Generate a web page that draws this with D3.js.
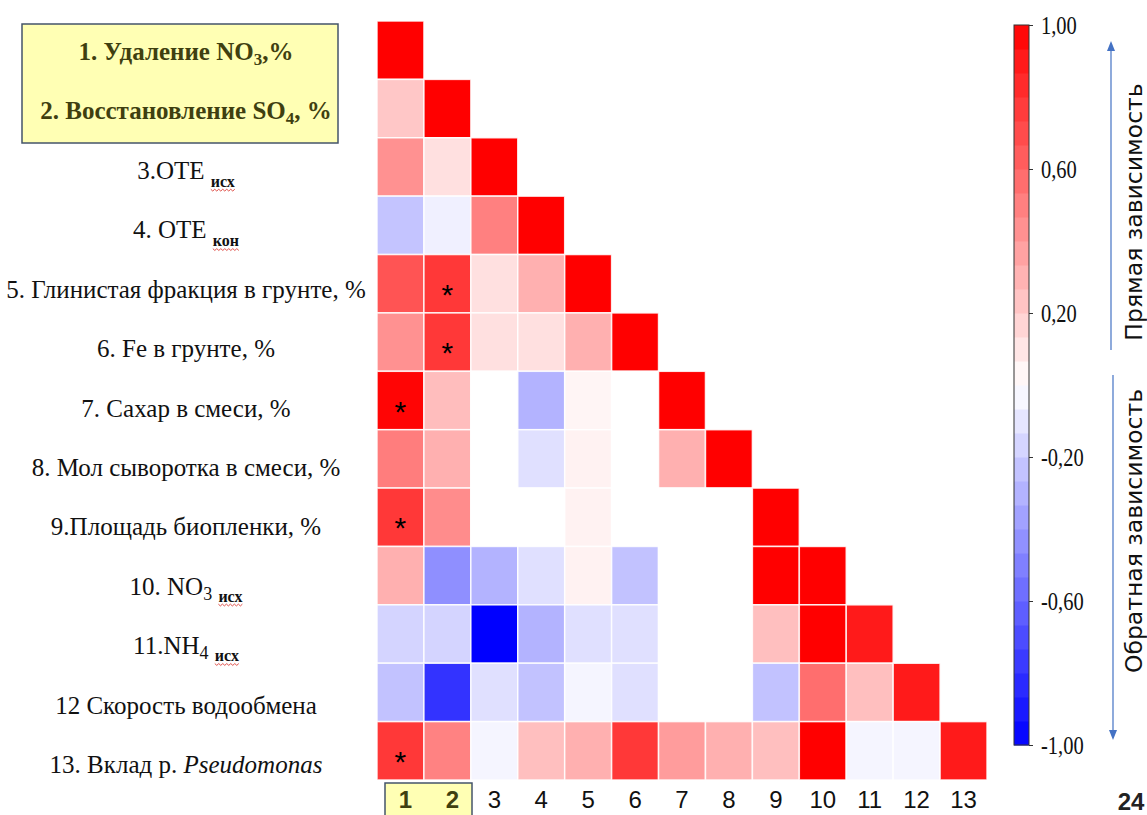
<!DOCTYPE html>
<html>
<head>
<meta charset="utf-8">
<script src="https://cdn.jsdelivr.net/npm/d3@7"></script>
<style>
  body { margin: 0; background: #fff; }
  svg { display: block; }
</style>
</head>
<body>
<svg id="chart" width="1147" height="815"></svg>
<script>
// Variable indices (rows and columns of the correlation matrix)
const variables = ["1","2","3","4","5","6","7","8","9","10","11","12","13"];

// Row labels, as text segments: [text, style]
const rowLabels = [
  [["1. Удаление NO"], ["3", "sub"], [",%"]],
  [["2. Восстановление SO"], ["4", "sub"], [", %"]],
  [["3.ОТЕ "], ["исх", "low"]],
  [["4. ОТЕ "], ["кон", "low"]],
  [["5. Глинистая фракция в грунте, %"]],
  [["6. Fe в грунте, %"]],
  [["7. Сахар в смеси, %"]],
  [["8. Мол сыворотка в смеси, %"]],
  [["9.Площадь биопленки, %"]],
  [["10. NO"], ["3", "sub"], [" "], ["исх", "low2"]],
  [["11.NH"], ["4", "sub"], [" "], ["исх", "low2"]],
  [["12 Скорость водообмена"]],
  [["13. Вклад р. "], ["Pseudomonas", "italic"]]
];
// Rows highlighted as target variables
const highlighted = ["1", "2"];

// Lower-triangle correlation coefficients, row by row
const r1  = [1.00];
const r2  = [0.22, 1.00];
const r3  = [0.43, 0.12, 1.00];
const r4  = [-0.23, -0.06, 0.50, 1.00];
const r5  = [0.67, 0.78, 0.12, 0.31, 1.00];
const r6  = [0.43, 0.78, 0.12, 0.12, 0.31, 1.00];
const r7  = [0.98, 0.26, 0.00, -0.30, 0.04, 0.00, 1.00];
const r8  = [0.51, 0.31, 0.00, -0.12, 0.05, 0.00, 0.31, 1.00];
const r9  = [0.78, 0.45, 0.00, 0.00, 0.05, 0.00, 0.00, 0.00, 1.00];
const r10 = [0.31, -0.44, -0.30, -0.12, 0.05, -0.24, 0.00, 0.00, 1.00, 1.00];
const r11 = [-0.17, -0.17, -1.00, -0.30, -0.12, -0.12, 0.00, 0.00, 0.25, 1.00, 0.90];
const r12 = [-0.24, -0.80, -0.12, -0.24, -0.04, -0.12, 0.00, 0.00, -0.24, 0.57, 0.25, 0.90];
const r13 = [0.78, 0.49, -0.04, 0.25, 0.31, 0.78, 0.39, 0.31, 0.25, 1.00, -0.04, -0.04, 0.90];
const corrRows = [r1, r2, r3, r4, r5, r6, r7, r8, r9, r10, r11, r12, r13];

// Significant coefficients: [row, column]
const significant = [["5","2"], ["6","2"], ["7","1"], ["9","1"], ["13","1"]];

// Colour-bar ticks and side captions
const legendTicks = [1, 0.6, 0.2, -0.2, -0.6, -1];
const positiveCaption = "Прямая зависимость";
const negativeCaption = "Обратная зависимость";
const pageNumber = "24";

const svg = d3.select("#chart");
const serif = "'Liberation Serif', 'Times New Roman', serif";
const sans = "'Liberation Sans', Arial, sans-serif";

// Scales
const x = d3.scaleBand().domain(variables).range([377, 987]);
const y = d3.scaleBand().domain(variables).range([21, 780]);
const labelY = d3.scalePoint().domain(variables).range([60, 773]);
const color = d3.scaleLinear().domain([-1, 0, 1]).range(["#0000ff", "#ffffff", "#ff0000"]);

// Flatten matrix
const cells = [];
corrRows.forEach((row, i) => row.forEach((v, j) => {
  cells.push({ row: variables[i], col: variables[j], value: v });
}));

// Heatmap cells
svg.append("g").selectAll("rect").data(cells).join("rect")
  .attr("x", d => x(d.col))
  .attr("y", d => y(d.row))
  .attr("width", x.bandwidth())
  .attr("height", y.bandwidth())
  .attr("fill", d => color(d.value))
  .attr("stroke", "#ffffff")
  .attr("stroke-opacity", 0.85)
  .attr("stroke-width", 1.5);

// Significance marks
svg.append("g").selectAll("text").data(significant).join("text")
  .attr("x", d => x(d[1]) + x.bandwidth() / 2)
  .attr("y", d => y(d[0]) + y.bandwidth() / 2 + 21)
  .attr("text-anchor", "middle")
  .attr("font-family", sans)
  .attr("font-size", 30)
  .attr("fill", "#000")
  .text("*");

// Highlight box for target variables (row labels)
svg.append("rect")
  .attr("x", 22).attr("y", 24).attr("width", 316).attr("height", 119)
  .attr("fill", "#ffffb4")
  .attr("stroke", "#44546a")
  .attr("stroke-width", 1.5);

// Row labels
const labelX = 186;
const labelG = svg.append("g");
rowLabels.forEach((parts, i) => {
  const key = variables[i];
  const isTarget = highlighted.includes(key);
  const t = labelG.append("text")
    .attr("x", labelX)
    .attr("y", labelY(key))
    .attr("text-anchor", "middle")
    .attr("font-family", serif)
    .attr("font-size", 25)
    .attr("font-weight", isTarget ? "bold" : "normal")
    .attr("fill", isTarget ? "#3f3f10" : "#111");
  let shift = 0;
  parts.forEach(([txt, style]) => {
    const ts = t.append("tspan").text(txt);
    let target = 0;
    if (style === "sub") { ts.attr("font-size", isTarget ? 17 : 18); target = 5; }
    else if (style === "low") { ts.attr("font-size", 16).attr("font-weight", "bold"); target = 8; }
    else if (style === "low2") { ts.attr("font-size", 16).attr("font-weight", "bold"); target = 7; }
    else if (style === "italic") { ts.attr("font-style", "italic"); }
    ts.attr("dy", target - shift);
    shift = target;
    if (style === "low" || style === "low2") ts.classed("spell", true);
  });
});

// Wavy underline under the abbreviated subscripts
labelG.selectAll("tspan.spell").each(function () {
  const n = this.getNumberOfChars();
  const s = this.getStartPositionOfChar(0);
  const e = this.getEndPositionOfChar(n - 1);
  const yy = s.y + 3;
  const pts = [];
  for (let xx = s.x, k = 0; xx <= e.x; xx += 2, k++) pts.push([xx, yy + (k % 2 ? 1.2 : -0.6)]);
  labelG.append("path")
    .attr("d", d3.line()(pts))
    .attr("fill", "none")
    .attr("stroke", "#e0504a")
    .attr("stroke-width", 1);
});

// Column index labels
svg.append("rect")
  .attr("x", 385).attr("y", 783).attr("width", 87).attr("height", 40)
  .attr("fill", "#ffffb4")
  .attr("stroke", "#44546a")
  .attr("stroke-width", 1.5);

svg.append("g").selectAll("text").data(variables).join("text")
  .attr("x", d => x(d) + x.bandwidth() / 2 + (highlighted.includes(d) ? 5 : 0))
  .attr("y", 808)
  .attr("text-anchor", "middle")
  .attr("font-family", sans)
  .attr("font-size", 24)
  .attr("font-weight", d => highlighted.includes(d) ? "bold" : "normal")
  .attr("fill", d => highlighted.includes(d) ? "#3f3f10" : "#111")
  .text(d => d);

// Colour bar (stepped)
const barX = 1014, barW = 15;
const ly = d3.scaleLinear().domain([-1, 1]).range([745, 25]);
const steps = 30;
const bands = d3.range(steps).map(k => {
  const lo = -1 + 2 * k / steps, hi = -1 + 2 * (k + 1) / steps;
  return { lo, hi, mid: (lo + hi) / 2 };
});
svg.append("g").selectAll("rect").data(bands).join("rect")
  .attr("x", barX)
  .attr("y", d => ly(d.hi))
  .attr("width", barW)
  .attr("height", d => ly(d.lo) - ly(d.hi) + 0.5)
  .attr("fill", d => color(d.mid));

svg.append("rect")
  .attr("x", barX).attr("y", 25).attr("width", barW).attr("height", 720)
  .attr("fill", "none").attr("stroke", "#333").attr("stroke-width", 1);

const fmt = d3.format(".2f");
const axis = svg.append("g")
  .attr("transform", `translate(${barX + barW},0)`)
  .call(d3.axisRight(ly).tickValues(legendTicks).tickSize(4)
    .tickFormat(d => fmt(d).replace("\u2212", "-").replace(".", ",")));
axis.select(".domain").remove();
axis.selectAll(".tick line").attr("stroke", "#333");
axis.selectAll(".tick text")
  .attr("x", 0)
  .attr("transform", "translate(12,0) scale(0.82,1)")
  .attr("font-family", serif)
  .attr("font-size", 25)
  .attr("fill", "#111");

// Direction arrows and captions
const arrowColor = "#4472c4";
const arrows = [
  { x: 1111, from: 350, to: 41 },
  { x: 1113, from: 375, to: 740 }
];
arrows.forEach(a => {
  const dir = a.to < a.from ? -1 : 1;
  svg.append("line")
    .attr("x1", a.x).attr("x2", a.x)
    .attr("y1", a.from).attr("y2", a.to - dir * 8)
    .attr("stroke", arrowColor).attr("stroke-width", 1.2);
  svg.append("path")
    .attr("d", `M${a.x},${a.to} L${a.x - 4},${a.to - dir * 10} L${a.x + 4},${a.to - dir * 10} Z`)
    .attr("fill", arrowColor);
});

[{ text: positiveCaption, cy: 212 }, { text: negativeCaption, cy: 531 }].forEach(c => {
  svg.append("text")
    .attr("transform", `translate(1142,${c.cy}) rotate(-90)`)
    .attr("text-anchor", "middle")
    .attr("font-family", "'DejaVu Sans', Verdana, sans-serif")
    .attr("font-size", 23.5)
    .attr("fill", "#111")
    .text(c.text);
});

// Page number
svg.append("text")
  .attr("x", 1131).attr("y", 810)
  .attr("text-anchor", "middle")
  .attr("font-family", sans)
  .attr("font-size", 24)
  .attr("font-weight", "bold")
  .attr("fill", "#222")
  .text(pageNumber);
</script>
</body>
</html>
